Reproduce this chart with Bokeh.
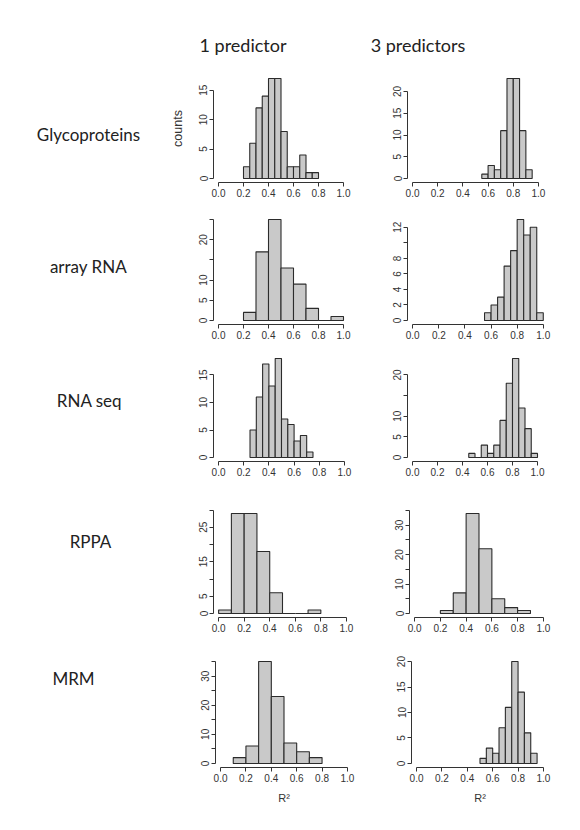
from bokeh.plotting import figure
from bokeh.layouts import column, row
from bokeh.models import Range1d, FixedTicker, NumeralTickFormatter
from bokeh.core.properties import value
from bokeh.embed import file_html
from bokeh.resources import INLINE

# ---------------- data ----------------
column_titles = ["1 predictor", "3 predictors"]
row_names = ["Glycoproteins", "array RNA", "RNA seq", "RPPA", "MRM"]

glyco_1_breaks = [0.20, 0.25, 0.30, 0.35, 0.40, 0.45, 0.50, 0.55, 0.60, 0.65, 0.70, 0.75, 0.80]
glyco_1_counts = [2, 6, 12, 14, 17, 17, 8, 2, 2, 4, 1, 1]
glyco_3_breaks = [0.55, 0.60, 0.65, 0.70, 0.75, 0.80, 0.85, 0.90, 0.95]
glyco_3_counts = [1, 3, 2, 11, 23, 23, 11, 2]

array_1_breaks = [0.2, 0.3, 0.4, 0.5, 0.6, 0.7, 0.8, 0.9, 1.0]
array_1_counts = [2, 17, 25, 13, 9, 3, 0, 1]
array_3_breaks = [0.55, 0.60, 0.65, 0.70, 0.75, 0.80, 0.85, 0.90, 0.95, 1.00]
array_3_counts = [1, 2, 3, 7, 9, 13, 11, 12, 1]

rnaseq_1_breaks = [0.25, 0.30, 0.35, 0.40, 0.45, 0.50, 0.55, 0.60, 0.65, 0.70, 0.75]
rnaseq_1_counts = [5, 11, 17, 13, 18, 7, 6, 3, 4, 1]
rnaseq_3_breaks = [0.45, 0.50, 0.55, 0.60, 0.65, 0.70, 0.75, 0.80, 0.85, 0.90, 0.95, 1.00]
rnaseq_3_counts = [1, 0, 3, 1, 3, 9, 18, 24, 12, 7, 1]

rppa_1_breaks = [0.0, 0.1, 0.2, 0.3, 0.4, 0.5, 0.6, 0.7, 0.8]
rppa_1_counts = [1, 29, 29, 18, 6, 0, 0, 1]
rppa_3_breaks = [0.2, 0.3, 0.4, 0.5, 0.6, 0.7, 0.8, 0.9]
rppa_3_counts = [1, 7, 34, 22, 5, 2, 1]

mrm_1_breaks = [0.1, 0.2, 0.3, 0.4, 0.5, 0.6, 0.7, 0.8]
mrm_1_counts = [2, 6, 35, 23, 7, 4, 2]
mrm_3_breaks = [0.50, 0.55, 0.60, 0.65, 0.70, 0.75, 0.80, 0.85, 0.90, 0.95]
mrm_3_counts = [1, 3, 2, 7, 11, 20, 14, 6, 2]

x_ticks = [0.0, 0.2, 0.4, 0.6, 0.8, 1.0]
# y ticks per panel and which tick labels are visible (R drops overlapping ones)
glyco_1_yticks, glyco_1_ylabels = [0, 5, 10, 15], [0, 5, 10, 15]
glyco_3_yticks, glyco_3_ylabels = [0, 5, 10, 15, 20], [0, 5, 10, 15, 20]
array_1_yticks, array_1_ylabels = [0, 5, 10, 15, 20, 25], [0, 5, 10, 20]
array_3_yticks, array_3_ylabels = [0, 2, 4, 6, 8, 10, 12], [0, 2, 4, 6, 8, 12]
rnaseq_1_yticks, rnaseq_1_ylabels = [0, 5, 10, 15], [0, 5, 10, 15]
rnaseq_3_yticks, rnaseq_3_ylabels = [0, 5, 10, 15, 20], [0, 5, 10, 20]
rppa_1_yticks, rppa_1_ylabels = [0, 5, 10, 15, 20, 25, 30], [0, 5, 15, 25]
rppa_3_yticks, rppa_3_ylabels = [0, 5, 10, 15, 20, 25, 30, 35], [0, 10, 20, 30]
mrm_1_yticks, mrm_1_ylabels = [0, 5, 10, 15, 20, 25, 30, 35], [0, 10, 20, 30]
mrm_3_yticks, mrm_3_ylabels = [0, 5, 10, 15, 20], [0, 5, 10, 15, 20]

# ---------------- layout ----------------
W = 580
LAB_X = (0, 165)
LEFT_X = (165, 375)
RIGHT_X = (375, 580)
ROWS_Y = [(60, 210), (210, 347), (347, 505), (505, 652), (652, 830)]

# frame boxes (left, right, top, bottom) in page pixels
frames = [
    [(213.3, 347.7, 74.0, 182.3), (406.6, 543.4, 68.9, 181.5)],
    [(212.7, 347.7, 214.9, 324.0), (406.5, 547.5, 215.2, 326.8)],
    [(212.6, 349.4, 353.9, 460.6), (406.7, 542.3, 354.0, 463.0)],
    [(212.6, 350.8, 508.8, 619.4), (409.2, 547.8, 508.0, 616.7)],
    [(214.9, 352.4, 656.3, 767.4), (410.9, 548.4, 656.8, 767.4)],
]
label_pos = [(88, 143), (88, 274), (89, 415), (90, 549), (73, 686)]

BAR_FILL = "#c9c9c9"
BAR_LINE = "#2b2b2b"
AX_COL = "#333333"
TICK_FONT = "Liberation Sans"


def panel(breaks, counts, yticks, ylabels, frame, xbox, ybox, ylab=None, xlab=None):
    fl, fr, ft, fb = frame
    bx0, bx1 = xbox
    by0, by1 = ybox
    ymax = max(counts)
    p = figure(width=bx1 - bx0, height=by1 - by0,
               x_range=Range1d(-0.04, 1.04),
               y_range=Range1d(-0.04 * ymax, 1.04 * ymax),
               output_backend="svg", toolbar_location=None,
               min_border_left=round(fl - bx0), min_border_right=round(bx1 - fr),
               min_border_top=round(ft - by0), min_border_bottom=round(by1 - fb))
    p.outline_line_color = None
    p.grid.grid_line_color = None
    p.background_fill_color = "white"
    p.border_fill_color = "white"
    p.quad(left=breaks[:-1], right=breaks[1:], bottom=0, top=counts,
           fill_color=BAR_FILL, line_color=BAR_LINE, line_width=1.1)

    xa = p.xaxis[0]
    xa.ticker = FixedTicker(ticks=x_ticks)
    xa.formatter = NumeralTickFormatter(format="0.0")
    xa.bounds = (0, 1)
    ya = p.yaxis[0]
    ya.ticker = FixedTicker(ticks=yticks)
    ya.major_label_overrides = {t: ("" if t not in ylabels else str(t)) for t in yticks}
    ya.bounds = (0, yticks[-1])
    ya.major_label_orientation = "vertical"
    for ax in (xa, ya):
        ax.axis_line_color = AX_COL
        ax.axis_line_width = 1
        ax.major_tick_line_color = AX_COL
        ax.major_tick_out = 4
        ax.major_tick_in = 0
        ax.minor_tick_line_color = None
        ax.major_label_text_font = TICK_FONT
        ax.major_label_text_font_size = "10px"
        ax.major_label_text_color = "#333333"
        ax.major_label_standoff = 2
        ax.axis_label_text_font = TICK_FONT
        ax.axis_label_text_font_size = "11px"
        ax.axis_label_text_font_style = "normal"
        ax.axis_label_text_color = "#333333"
    if ylab:
        ya.axis_label = ylab
        ya.axis_label_text_font_size = "12.5px"
        ya.axis_label_standoff = 12
    if xlab:
        xa.axis_label = xlab
        xa.axis_label_standoff = 7
    return p


def text_fig(xbox, ybox, xs, ys, texts, size):
    bx0, bx1 = xbox
    by0, by1 = ybox
    p = figure(width=bx1 - bx0, height=by1 - by0,
               x_range=Range1d(bx0, bx1), y_range=Range1d(by1, by0),
               output_backend="svg", toolbar_location=None,
               min_border=0, min_border_left=0, min_border_right=0,
               min_border_top=0, min_border_bottom=0)
    p.axis.visible = False
    p.grid.grid_line_color = None
    p.outline_line_color = None
    p.text(x=xs, y=ys, text=texts, text_font=value("Lato"), text_font_size=size,
           text_align="center", text_baseline="middle", text_color="#222222")
    return p


header = text_fig((0, W), (0, 60), [242.5, 417.5], [44, 44], column_titles, "18px")

panel_data = [
    (glyco_1_breaks, glyco_1_counts, glyco_1_yticks, glyco_1_ylabels,
     glyco_3_breaks, glyco_3_counts, glyco_3_yticks, glyco_3_ylabels),
    (array_1_breaks, array_1_counts, array_1_yticks, array_1_ylabels,
     array_3_breaks, array_3_counts, array_3_yticks, array_3_ylabels),
    (rnaseq_1_breaks, rnaseq_1_counts, rnaseq_1_yticks, rnaseq_1_ylabels,
     rnaseq_3_breaks, rnaseq_3_counts, rnaseq_3_yticks, rnaseq_3_ylabels),
    (rppa_1_breaks, rppa_1_counts, rppa_1_yticks, rppa_1_ylabels,
     rppa_3_breaks, rppa_3_counts, rppa_3_yticks, rppa_3_ylabels),
    (mrm_1_breaks, mrm_1_counts, mrm_1_yticks, mrm_1_ylabels,
     mrm_3_breaks, mrm_3_counts, mrm_3_yticks, mrm_3_ylabels),
]

rows = [header]
for i, (b1, c1, t1, l1, b3, c3, t3, l3) in enumerate(panel_data):
    ybox = ROWS_Y[i]
    lab = text_fig(LAB_X, ybox, [label_pos[i][0]], [label_pos[i][1]], [row_names[i]], "17px")
    last = i == len(panel_data) - 1
    pl = panel(b1, c1, t1, l1, frames[i][0], LEFT_X, ybox,
               ylab="counts" if i == 0 else None, xlab="R\u00b2" if last else None)
    pr = panel(b3, c3, t3, l3, frames[i][1], RIGHT_X, ybox,
               xlab="R\u00b2" if last else None)
    rows.append(row(lab, pl, pr))

layout = column(*rows)

with open("out.html", "w") as f:
    f.write(file_html(layout, INLINE))
